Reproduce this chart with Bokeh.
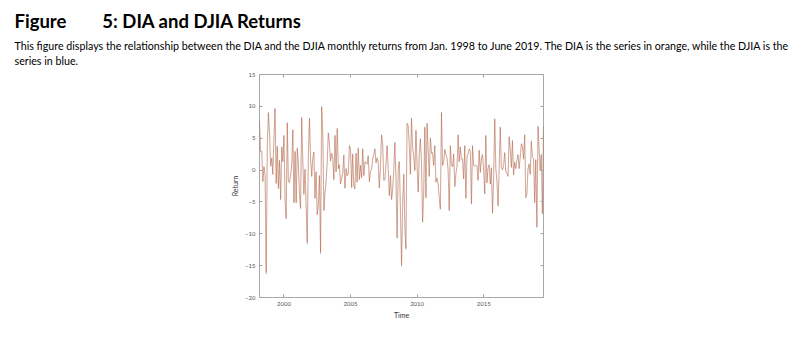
import pandas as pd
from bokeh.plotting import figure
from bokeh.models import Title, LinearAxis, FixedTicker, Range1d, ColumnDataSource, CustomJSTickFormatter
from bokeh.embed import file_html
from bokeh.resources import INLINE

# Monthly log returns (%), Feb 1998 .. Jun 2019
djia_returns = [
    7.8, 2.9, 3.0, -1.8, 0.6, -0.8, -16.4, 3.9, 9.1, 5.9, 0.7,
    1.9, -0.6, 5.0, 9.8, -2.1, 3.8, -2.9, 1.6, -4.7, 3.7, 1.4, 5.5,
    -5.0, -7.7, 7.5, -1.7, -2.0, -0.7, 0.7, 6.4, -5.2, 3.0, -5.2, 3.5,
    0.9, -3.7, -6.1, 8.3, 1.6, -3.8, 0.2, -5.6, -11.7, 2.5, 8.2, 1.7,
    -1.0, 1.9, 2.9, -4.5, -0.2, -7.1, -5.6, -0.8, -13.2, 10.1, 5.8, -6.4,
    -3.5, -2.0, 1.3, 5.9, 4.3, 1.5, 2.7, 2.0, -1.5, 5.5, -0.2, 6.6,
    0.3, 0.9, -2.2, -1.3, -0.4, 2.4, -2.9, 0.3, -0.9, -0.5, 3.9, 3.3,
    -2.8, 2.6, -2.5, -3.0, 2.7, -1.9, 3.5, -1.5, 0.8, -1.2, 3.4, -0.8,
    1.4, 1.2, 1.0, 2.3, -1.8, -0.2, 0.3, 1.7, 2.6, 3.4, 1.2, 2.0,
    1.3, -2.8, 0.7, 5.6, 4.2, -1.6, -1.5, 1.1, 3.9, 0.2, -4.1, -0.8,
    -4.7, -3.1, 0.0, 4.4, -1.4, -10.8, 0.2, 1.4, -6.2, -15.2, -5.5, -0.6,
    -9.3, -12.5, 7.4, 7.1, 4.0, -0.6, 8.2, 3.5, 2.2, 0.0, 6.3, 0.8,
    -3.5, 2.5, 5.0, 1.4, -8.3, -3.6, 6.8, -4.4, 7.4, 3.0, -1.0, 5.1,
    2.7, 2.8, 0.8, 3.9, -1.9, -1.2, -2.2, -4.5, -6.2, 9.1, 0.8, 1.4,
    3.3, 2.5, 2.0, 0.0, -6.4, 3.9, 1.0, 0.6, 2.6, -2.6, -0.5, 0.6,
    5.6, 1.4, 3.7, 1.8, 1.8, -1.4, 3.9, -4.5, 2.1, 2.7, 3.4, 3.0,
    -5.4, 3.9, 0.8, 0.7, 0.8, 0.7, -1.6, 3.2, -0.3, 2.0, 2.5, 0.0,
    -3.8, 5.5, -2.0, 0.4, 0.9, -2.2, 0.4, -6.8, -1.5, 8.1, 0.3, -1.7,
    -5.7, 0.3, 6.8, 0.5, 0.1, 0.8, 2.8, -0.2, -0.5, -0.9, 5.3, 3.3,
    0.5, 4.7, -0.7, 1.3, 0.3, 1.6, 2.5, 0.3, 2.1, 4.2, 3.8, 1.8,
    5.6, -4.4, -3.8, 0.2, 1.0, -0.6, 4.6, 2.1, 1.9, -5.2, 1.7, -9.1,
    6.9, 3.6, 0.0, 2.5, -6.9, 6.9,
]

dia_returns = [
    7.7, 2.9, 2.9, -1.8, 0.5, -0.8, -16.1, 3.8, 9.0, 5.8, 0.6,
    1.9, -0.7, 4.9, 9.6, -2.1, 3.7, -2.9, 1.5, -4.6, 3.6, 1.3, 5.4,
    -4.9, -7.6, 7.4, -1.8, -1.9, -0.8, 0.6, 6.3, -5.1, 2.9, -5.1, 3.4,
    0.8, -3.6, -6.0, 8.2, 1.5, -3.8, 0.1, -5.5, -11.4, 2.4, 8.1, 1.6,
    -1.0, 1.8, 2.8, -4.4, -0.3, -7.0, -5.5, -0.9, -12.9, 9.9, 5.7, -6.3,
    -3.4, -2.0, 1.2, 5.8, 4.2, 1.4, 2.6, 1.9, -1.5, 5.4, -0.3, 6.5,
    0.2, 0.8, -2.2, -1.3, -0.5, 2.3, -2.8, 0.2, -0.9, -0.6, 3.8, 3.2,
    -2.7, 2.5, -2.5, -2.9, 2.6, -1.9, 3.4, -1.5, 0.7, -1.2, 3.3, -0.9,
    1.3, 1.1, 0.9, 2.2, -1.8, -0.3, 0.2, 1.6, 2.5, 3.3, 1.1, 1.9,
    1.2, -2.8, 0.6, 5.5, 4.1, -1.6, -1.5, 1.0, 3.8, 0.1, -4.0, -0.9,
    -4.6, -3.1, -0.1, 4.3, -1.4, -10.6, 0.1, 1.3, -6.1, -14.9, -5.4, -0.7,
    -9.1, -12.3, 7.3, 7.0, 3.9, -0.7, 8.1, 3.4, 2.1, -0.1, 6.2, 0.7,
    -3.4, 2.4, 4.9, 1.3, -8.1, -3.6, 6.7, -4.3, 7.3, 2.9, -1.0, 5.0,
    2.6, 2.7, 0.7, 3.8, -1.9, -1.3, -2.1, -4.4, -6.1, 9.0, 0.7, 1.3,
    3.2, 2.4, 1.9, -0.1, -6.3, 3.8, 0.9, 0.5, 2.5, -2.6, -0.6, 0.5,
    5.5, 1.3, 3.6, 1.7, 1.7, -1.4, 3.8, -4.4, 2.0, 2.6, 3.3, 2.9,
    -5.3, 3.8, 0.7, 0.6, 0.7, 0.6, -1.6, 3.1, -0.4, 1.9, 2.4, -0.1,
    -3.7, 5.4, -2.0, 0.3, 0.8, -2.2, 0.3, -6.7, -1.5, 8.0, 0.2, -1.8,
    -5.6, 0.2, 6.7, 0.4, 0.0, 0.7, 2.7, -0.3, -0.5, -1.0, 5.2, 3.2,
    0.4, 4.6, -0.8, 1.2, 0.2, 1.5, 2.4, 0.2, 2.0, 4.1, 3.7, 1.7,
    5.5, -4.3, -3.8, 0.1, 0.9, -0.7, 4.5, 2.0, 1.8, -5.1, 1.6, -8.9,
    6.8, 3.5, -0.1, 2.4, -6.8, 6.8,
]

first_month = "1998-02"
x_tick_years = [2000, 2005, 2010, 2015]
y_tick_values = [-20, -15, -10, -5, 0, 5, 10, 15]

title_text = "Figure" + "\u00a0" * 8 + "5: DIA and DJIA Returns"
caption_1 = ("This figure displays the relationship between the DIA and the DJIA monthly returns "
             "from Jan. 1998 to June 2019. The DIA is the series in orange, while the DJIA is the")
caption_2 = "series in blue."

# month-end dates as decimal years
dates = pd.date_range(first_month + "-01", periods=len(djia_returns), freq="ME")
days_in_year = 365 + dates.is_leap_year.astype(int)
t = (dates.year + dates.dayofyear / days_in_year).to_numpy()

src = ColumnDataSource(dict(t=t, djia=djia_returns, dia=dia_returns))

W, H = 806, 352
BL, BR, BT, BB = 259, 263, 74, 55
p = figure(width=W, height=H, output_backend="svg", toolbar_location=None,
           x_range=Range1d(t[0], t[-1]), y_range=Range1d(y_tick_values[0], y_tick_values[-1]),
           min_border_left=BL, min_border_right=BR, min_border_top=BT, min_border_bottom=BB,
           background_fill_color="white", border_fill_color="white")
p.xgrid.visible = False
p.ygrid.visible = False
p.outline_line_color = "#a8a8a8"
p.outline_line_width = 1

p.line("t", "djia", source=src, color="#0072BD", line_width=0.8, line_alpha=0.22)
p.line("t", "dia", source=src, color="#D95319", line_width=0.8, line_alpha=0.55)

AX = "#a0a0a0"
TXT = "#555555"
FONT = "Lato"

def style(ax, labels=True):
    ax.axis_line_color = None
    ax.major_tick_in = 3
    ax.major_tick_out = 0
    ax.minor_tick_line_color = None
    ax.major_tick_line_color = AX
    ax.major_label_text_font = FONT
    ax.major_label_text_font_size = "6px"
    ax.major_label_text_color = TXT
    ax.axis_label_text_font = FONT
    ax.axis_label_text_font_size = "7px"
    ax.axis_label_text_font_style = "normal"
    ax.axis_label_text_color = "#333333"
    if not labels:
        ax.formatter = CustomJSTickFormatter(code="return ''")
        ax.major_label_standoff = 0

p.xaxis.ticker = FixedTicker(ticks=x_tick_years)
p.yaxis.ticker = FixedTicker(ticks=y_tick_values)
style(p.xaxis[0])
style(p.yaxis[0])
p.xaxis.axis_label = "Time"
p.yaxis.axis_label = "Return"
p.xaxis.major_label_standoff = 4
p.yaxis.major_label_standoff = 4
p.xaxis.axis_label_standoff = 2
p.yaxis.axis_label_standoff = 3

top = LinearAxis(ticker=FixedTicker(ticks=x_tick_years))
style(top, labels=False)
p.add_layout(top, "above")
right = LinearAxis(ticker=FixedTicker(ticks=y_tick_values))
style(right, labels=False)
p.add_layout(right, "right")

# text block above the plot: stacked titles, nearest to the frame first
LEFT = 14 - BL
p.add_layout(Title(text=caption_1 + "\n" + caption_2, align="left", offset=LEFT, standoff=14,
                   text_font=FONT, text_font_size="10.7px", text_font_style="normal",
                   text_line_height=1.2, text_color="black"), "above")
p.add_layout(Title(text=title_text, align="left", offset=LEFT, standoff=-5,
                   text_font=FONT, text_font_size="18.5px", text_font_style="bold",
                   text_color="black"), "above")

open("out.html", "w").write(file_html(p, INLINE))
